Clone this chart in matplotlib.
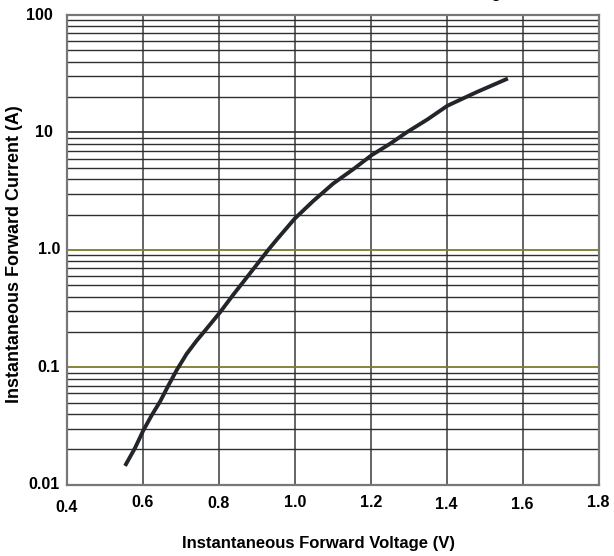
import matplotlib
matplotlib.use("Agg")
import matplotlib.pyplot as plt

plt.rcParams['font.family'] = ['Liberation Sans', 'DejaVu Sans']
plt.rcParams['font.weight'] = 'bold'

# Forward characteristic
voltage = [0.553, 0.579, 0.601, 0.623, 0.645, 0.667, 0.690, 0.715, 0.741, 0.767,
           0.803, 0.838, 0.873, 0.908, 0.930, 0.952, 1.0, 1.048, 1.101, 1.156,
           1.202, 1.253, 1.294, 1.349, 1.402, 1.478, 1.561]
current = [0.0145, 0.0205, 0.029, 0.039, 0.051, 0.070, 0.096, 0.130, 0.168, 0.212,
           0.294, 0.416, 0.58, 0.81, 1.0, 1.22, 1.85, 2.6, 3.67, 4.92,
           6.4, 8.1, 10.0, 12.9, 16.9, 22.0, 28.8]

x_ticks = [0.4, 0.6, 0.8, 1.0, 1.2, 1.4, 1.6, 1.8]
x_tick_labels = ["0.4", "0.6", "0.8", "1.0", "1.2", "1.4", "1.6", "1.8"]
y_ticks = [0.01, 0.1, 1.0, 10, 100]
y_tick_labels = ["0.01", "0.1", "1.0", "10", "100"]

fig = plt.figure(figsize=(6.14, 5.56), dpi=100)
ax = fig.add_axes([0.109, 0.128, 0.866, 0.845])

ax.set_yscale('log')
ax.set_xlim(0.4, 1.8)
ax.set_ylim(0.01, 100)

# grid: vertical every 0.2 V, horizontal at every log step
for v in x_ticks[1:-1]:
    ax.axvline(v, color='#3a3a3a', lw=1.1, zorder=1)
for dec in [0.01, 0.1, 1, 10]:
    for m in range(2, 10):
        ax.axhline(dec * m, color='#2e2e2e', lw=1.0, zorder=1)
ax.axhline(10, color='#2e2e2e', lw=1.2, zorder=1)
for y in [0.1, 1.0]:
    ax.axhline(y, color='#7d7a2a', lw=1.3, zorder=1)

ax.plot(voltage, current, color='#22252a', lw=2.8, solid_capstyle='butt',
        solid_joinstyle='round', zorder=3)

for s in ax.spines.values():
    s.set_color('#777777')
    s.set_linewidth(1.6)

ax.set_xticks([])
ax.set_yticks([])
ax.minorticks_off()

# tick labels placed by hand, as in the original (staggered / uneven)
x_offsets = [-0.049, -0.038, -0.040, -0.037, -0.037, -0.042, -0.042, -0.038]
for v, lab, off in zip(x_ticks, x_tick_labels, x_offsets):
    ax.text(v, off, lab, transform=ax.get_xaxis_transform(), ha='center', va='center',
            fontsize=11.5, fontweight='bold')

y_offsets = [-0.013, -0.013, -0.013, -0.026, -0.026]
for val, lab, off in zip(y_ticks, y_tick_labels, y_offsets):
    ax.text(off, val, lab, transform=ax.get_yaxis_transform(), ha='right', va='center',
            fontsize=11.5, fontweight='bold')

ax.set_xlabel("Instantaneous Forward Voltage (V)", fontsize=12, fontweight='bold')
ax.xaxis.set_label_coords(0.473, -0.108)
ax.set_ylabel("Instantaneous Forward Current (A)", fontsize=13, fontweight='bold')
ax.yaxis.set_label_coords(-0.083, 0.49)

# title mostly cut off at the top of the picture
fig.text(0.83, 1.003, "Forward Voltage", ha='right', va='baseline', fontsize=11, fontweight='bold')

fig.savefig("out.png", dpi=100)
